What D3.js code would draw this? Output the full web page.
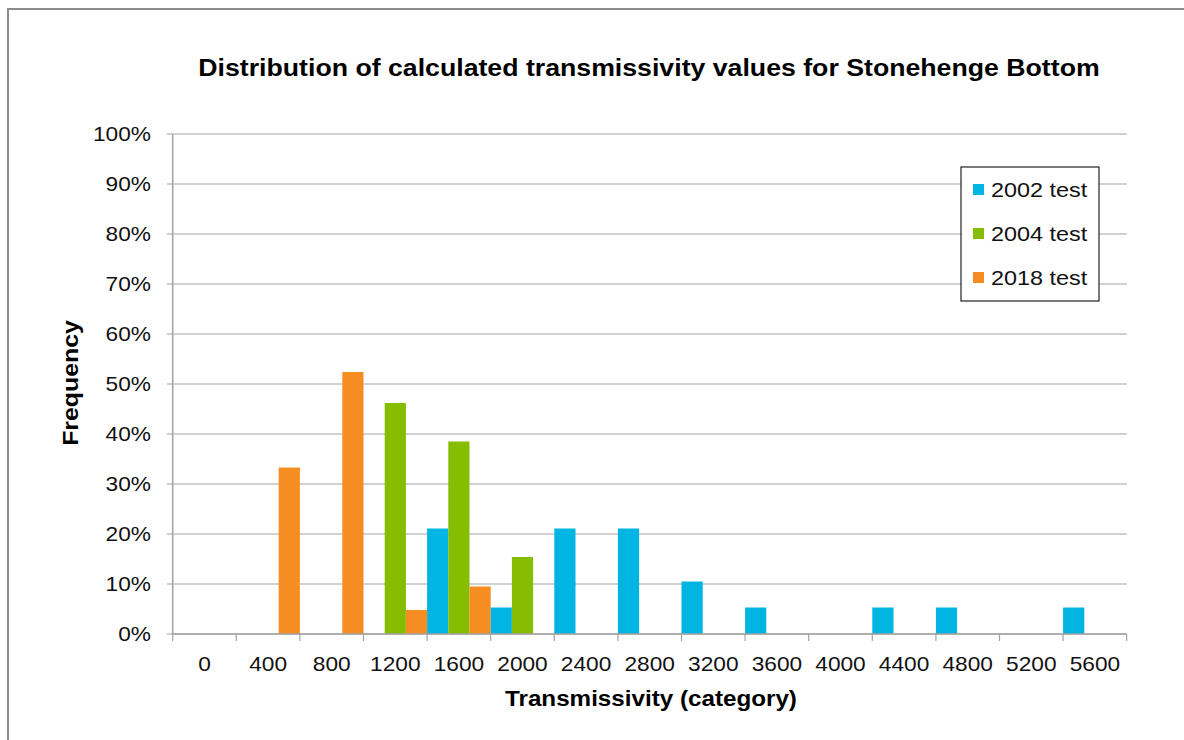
<!DOCTYPE html>
<html>
<head>
<meta charset="utf-8">
<script src="https://cdn.jsdelivr.net/npm/d3@7"></script>
<style>
  body { margin: 0; background: #fff; }
  svg { display: block; font-family: "Liberation Sans", Arial, sans-serif; }
</style>
</head>
<body>
<div id="chart"></div>
<script>
// Data (percent per transmissivity category)
const categories = ["0", "400", "800", "1200", "1600", "2000", "2400", "2800",
  "3200", "3600", "4000", "4400", "4800", "5200", "5600"];
const seriesNames = ["2002 test", "2004 test", "2018 test"];
const values2002 = [0, 0, 0, 0, 21.1, 5.3, 21.1, 21.1, 10.5, 5.3, 0, 5.3, 5.3, 0, 5.3];
const values2004 = [0, 0, 0, 46.2, 38.5, 15.4, 0, 0, 0, 0, 0, 0, 0, 0, 0];
const values2018 = [0, 33.3, 52.4, 4.8, 9.5, 0, 0, 0, 0, 0, 0, 0, 0, 0, 0];
const yTicks = [0, 10, 20, 30, 40, 50, 60, 70, 80, 90, 100];
const colors = ["#00B5E2", "#86BD00", "#F68D22"];

const W = 1184, H = 740;
const plot = { left: 172.7, right: 1126.7, top: 134, bottom: 634 };
const gridColor = "#a3a3a3";

const svg = d3.select("#chart").append("svg")
  .attr("width", W).attr("height", H);

// stretch text a bit wider, the source renders wide glyphs
function widen(sel, k) {
  sel.each(function() {
    const L = this.getComputedTextLength();
    d3.select(this).attr("textLength", L * k).attr("lengthAdjust", "spacingAndGlyphs");
  });
}

// outer frame
svg.append("path")
  .attr("d", `M8,${H} L8,9 L${W},9`)
  .attr("fill", "none").attr("stroke", "#8c8c8c").attr("stroke-width", 2);

const x = d3.scaleBand().domain(categories).range([plot.left, plot.right]).padding(0);
const xs = d3.scaleBand().domain(seriesNames).range([0, x.bandwidth()]).padding(0);
const y = d3.scaleLinear().domain([0, 100]).range([plot.bottom, plot.top]);

// gridlines
svg.append("g").selectAll("line").data(yTicks).join("line")
  .attr("x1", plot.left - 6).attr("x2", plot.right)
  .attr("y1", d => y(d)).attr("y2", d => y(d))
  .attr("stroke", gridColor).attr("stroke-width", 1.2);

// bars
const table = categories.map((c, i) => ({
  cat: c,
  vals: [values2002[i], values2004[i], values2018[i]]
}));
const groups = svg.append("g").selectAll("g").data(table).join("g")
  .attr("transform", d => `translate(${x(d.cat)},0)`);
groups.selectAll("rect")
  .data(d => d.vals.map((v, j) => ({ s: seriesNames[j], v: v, j: j })).filter(e => e.v > 0))
  .join("rect")
  .attr("x", d => xs(d.s))
  .attr("width", xs.bandwidth())
  .attr("y", d => y(d.v))
  .attr("height", d => y(0) - y(d.v))
  .attr("fill", d => colors[d.j]);

// y axis line
svg.append("line")
  .attr("x1", plot.left).attr("x2", plot.left)
  .attr("y1", plot.top).attr("y2", plot.bottom)
  .attr("stroke", gridColor).attr("stroke-width", 1.5);

// x axis line + ticks at category boundaries
svg.append("line")
  .attr("x1", plot.left).attr("x2", plot.right)
  .attr("y1", plot.bottom).attr("y2", plot.bottom)
  .attr("stroke", gridColor).attr("stroke-width", 1.5);
const bounds = categories.map(c => x(c)).concat([plot.right]);
svg.append("g").selectAll("line").data(bounds).join("line")
  .attr("x1", d => d).attr("x2", d => d)
  .attr("y1", plot.bottom).attr("y2", plot.bottom + 7)
  .attr("stroke", gridColor).attr("stroke-width", 1.2);

// y tick labels
const fmt = d => d + "%";
svg.append("g").selectAll("text").data(yTicks).join("text")
  .attr("x", 151).attr("y", d => y(d) + 7)
  .attr("text-anchor", "end")
  .attr("font-size", 21).attr("fill", "#111")
  .text(fmt)
  .call(widen, 1.08);

// x tick labels
svg.append("g").selectAll("text").data(categories).join("text")
  .attr("x", d => x(d) + x.bandwidth() / 2).attr("y", 671)
  .attr("text-anchor", "middle")
  .attr("font-size", 21).attr("fill", "#111")
  .text(d => d)
  .call(widen, 1.08);

// title
svg.append("text")
  .attr("x", 649).attr("y", 76)
  .attr("text-anchor", "middle")
  .attr("font-size", 23).attr("font-weight", "bold")
  .text("Distribution of calculated transmissivity values for Stonehenge Bottom")
  .call(widen, 1.16);

// axis titles
svg.append("text")
  .attr("transform", "translate(78,383) rotate(-90)")
  .attr("text-anchor", "middle")
  .attr("font-size", 22).attr("font-weight", "bold")
  .text("Frequency")
  .call(widen, 1.13);

svg.append("text")
  .attr("x", 651).attr("y", 706)
  .attr("text-anchor", "middle")
  .attr("font-size", 22).attr("font-weight", "bold")
  .text("Transmissivity (category)")
  .call(widen, 1.1);

// legend
const legend = svg.append("g").attr("transform", "translate(961,167)");
legend.append("rect")
  .attr("width", 138).attr("height", 134)
  .attr("fill", "#fff").attr("stroke", "#222").attr("stroke-width", 1.2);
const items = legend.selectAll("g").data(seriesNames).join("g")
  .attr("transform", (d, i) => `translate(0,${23 + i * 44})`);
items.append("rect")
  .attr("x", 12).attr("y", -6).attr("width", 11).attr("height", 11)
  .attr("fill", (d, i) => colors[i]);
items.append("text")
  .attr("x", 30).attr("y", 7)
  .attr("font-size", 20).attr("fill", "#111")
  .text(d => d)
  .call(widen, 1.17);
</script>
</body>
</html>
